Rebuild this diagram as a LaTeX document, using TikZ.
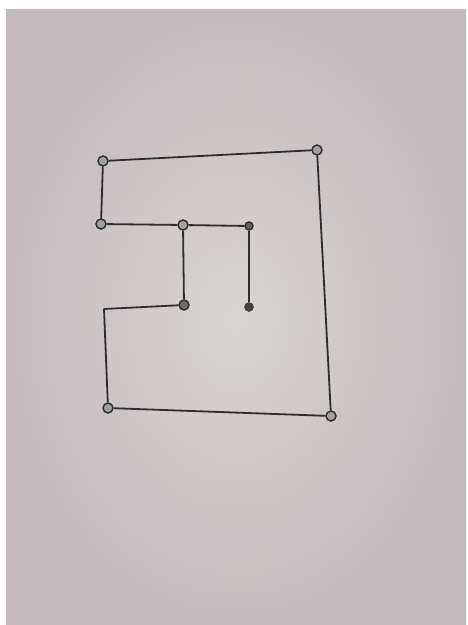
\documentclass[tikz,border=0pt]{standalone}
\usepackage{xcolor}
\usepackage{tikz}
\usetikzlibrary{positioning}
\definecolor{paper}{RGB}{216,213,210}
\definecolor{paperedge}{RGB}{196,186,189}
\definecolor{pencil}{RGB}{45,45,45}

\begin{document}
\begin{tikzpicture}[
    x=1pt, y=-1pt,
    ring/.style={circle, draw=pencil, fill=pencil!45, line width=1.4pt, inner sep=0pt, minimum size=10pt},
    blob/.style={circle, draw=pencil, fill=pencil!90, inner sep=0pt, minimum size=9pt},
    wire/.style={draw=pencil, line width=1.8pt, line join=round}
]
    \useasboundingbox (0,0) rectangle (468,625);
    \fill[white] (0,0) rectangle (468,625);
    \shade[inner color=paper, outer color=paperedge] (6,9) rectangle (466,625);
    \node[ring] (topleft) at (103,161) {};
    \node[ring] (topright) at (317,150) {};
    \node[ring] (botright) at (331,416) {};
    \node[ring] (botleft) at (108,408) {};
    \node[ring] (midleft) at (101,224) {};
    \node[ring] (inner) at (183,225) {};
    \node[ring, fill=pencil!75, minimum size=8pt] (tip) at (249,226) {};
    \node[ring, fill=pencil!70] (elbow) at (184,305) {};
    \node[blob] (stub) at (249,307) {};
    \coordinate (bend) at (104,309);
    \draw[wire] (topleft) -- (topright);
    \draw[wire] (topright) -- (botright);
    \draw[wire] (botright) -- (botleft);
    \draw[wire] (botleft) -- (bend) -- (elbow);
    \draw[wire] (topleft) -- (midleft);
    \draw[wire] (midleft) -- (inner);
    \draw[wire] (inner) -- (tip);
    \draw[wire] (inner) -- (elbow);
    \draw[wire] (tip) -- (stub);
\end{tikzpicture}
\end{document}
